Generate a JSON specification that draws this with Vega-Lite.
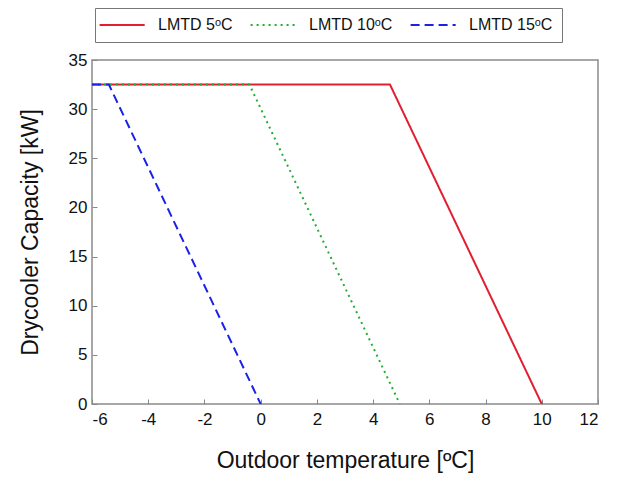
{
  "$schema": "https://vega.github.io/schema/vega-lite/v6.json",
  "width": 506,
  "height": 344,
  "autosize": "none",
  "padding": {"left": 92, "top": 60, "right": 25, "bottom": 75},
  "background": "white",
  "config": {
    "font": "Liberation Sans",
    "view": {"stroke": "#8a8a8a", "strokeWidth": 1.5}
  },
  "data": {
    "values": [
      {"series": "LMTD 5ᵒC", "t": -6, "q": 32.5},
      {"series": "LMTD 5ᵒC", "t": 4.6, "q": 32.5},
      {"series": "LMTD 5ᵒC", "t": 10.0, "q": 0},
      {"series": "LMTD 10ᵒC", "t": -6, "q": 32.5},
      {"series": "LMTD 10ᵒC", "t": -0.4, "q": 32.5},
      {"series": "LMTD 10ᵒC", "t": 4.95, "q": 0},
      {"series": "LMTD 15ᵒC", "t": -6, "q": 32.5},
      {"series": "LMTD 15ᵒC", "t": -5.4, "q": 32.5},
      {"series": "LMTD 15ᵒC", "t": 0.0, "q": 0}
    ]
  },
  "mark": {"type": "line", "strokeWidth": 2, "clip": true},
  "encoding": {
    "x": {
      "field": "t", "type": "quantitative",
      "scale": {"domain": [-6, 12], "nice": false, "zero": false},
      "axis": {
        "values": [-6, -4, -2, 0, 2, 4, 6, 8, 10, 12],
        "labelExpr": "replace(datum.label, '−', '-')",
        "title": "Outdoor temperature [ºC]",
        "titleFont": "Liberation Sans", "titleFontSize": 23, "titleFontWeight": "normal", "titleColor": "#111",
        "titlePadding": 22,
        "labelFontSize": 17, "labelColor": "#111", "labelPadding": 12,
        "tickSize": -5, "tickColor": "#888", "domain": false, "grid": false
      }
    },
    "y": {
      "field": "q", "type": "quantitative",
      "scale": {"domain": [0, 35], "nice": false},
      "axis": {
        "values": [0, 5, 10, 15, 20, 25, 30, 35],
        "title": "Drycooler Capacity [kW]",
        "titleFont": "Liberation Sans", "titleFontSize": 23, "titleFontWeight": "normal", "titleColor": "#111",
        "titlePadding": 26,
        "labelFontSize": 17, "labelColor": "#111", "labelPadding": 10,
        "tickSize": -5, "tickColor": "#888", "domain": false, "grid": false
      }
    },
    "color": {
      "field": "series", "type": "nominal",
      "scale": {"domain": ["LMTD 5ᵒC", "LMTD 10ᵒC", "LMTD 15ᵒC"], "range": ["#e02030", "#20b030", "#1a22e8"]},
      "legend": {
        "orient": "none", "direction": "horizontal",
        "legendX": 3, "legendY": -52,
        "title": null,
        "strokeColor": "#777", "padding": 9,
        "symbolType": "M-2.2,0H5.8", "symbolSize": 127, "symbolStrokeWidth": 2,
        "labelFontSize": 16, "labelColor": "#111", "labelOffset": 38,
        "columnPadding": 13
      }
    },
    "strokeDash": {
      "field": "series", "type": "nominal",
      "scale": {"domain": ["LMTD 5ᵒC", "LMTD 10ᵒC", "LMTD 15ᵒC"], "range": [[1, 0], [2, 4], [9, 5]]},
      "legend": null
    }
  }
}
